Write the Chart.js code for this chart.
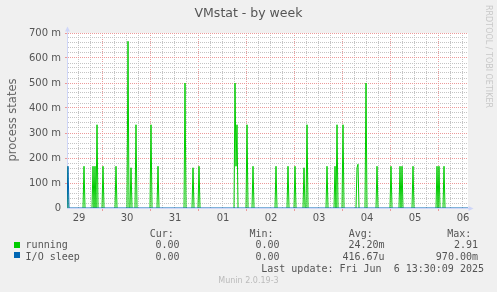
<!DOCTYPE html>
<html>
<head>
<meta charset="utf-8">
<title>VMstat - by week</title>
<script src="https://cdn.jsdelivr.net/npm/chart.js@4.4.1/dist/chart.umd.min.js"></script>
<style>
  html, body { margin: 0; padding: 0; background: #f0f0f0; }
  #wrap { position: relative; width: 497px; height: 292px; overflow: hidden;
          font-family: 'DejaVu Sans', sans-serif; color: #555; }
  #wrap canvas { position: absolute; left: 0; top: 0; }
  .t { position: absolute; line-height: 1; white-space: pre; }
  .mono { font-family: 'DejaVu Sans Mono', monospace; font-size: 10px; }
  .r { text-align: right; }
  .box { position: absolute; width: 6px; height: 6px; }
</style>
</head>
<body>
<div id="wrap">
  <canvas id="chart" width="497" height="292"></canvas>

  <div class="t" style="left:0; width:497px; text-align:center; top:6.7px; font-size:12.5px;">VMstat - by week</div>
  <div class="t" style="left:-38px; top:114px; width:100px; height:12px; line-height:12px; text-align:center; font-size:11.5px; color:#6a6a6a; transform:rotate(-90deg);">process states</div>
  <div class="t" style="left:483.6px; top:4.5px; font-size:8px; color:#c8c8c8; writing-mode:vertical-rl;">RRDTOOL / TOBI OETIKER</div>

  <div class="t mono" style="left:149.8px; top:228.8px;">Cur:</div>
  <div class="t mono" style="left:249.5px; top:228.8px;">Min:</div>
  <div class="t mono" style="left:348.8px; top:228.8px;">Avg:</div>
  <div class="t mono" style="left:447.2px; top:228.8px;">Max:</div>

  <div class="box" style="left:13.8px; top:241.8px; background:#00cc00;"></div>
  <div class="t mono" style="left:25.6px; top:239.8px;">running</div>
  <div class="t mono r" style="right:317.4px; top:239.8px;">0.00</div>
  <div class="t mono r" style="right:217.4px; top:239.8px;">0.00</div>
  <div class="t mono r" style="right:112.4px; top:239.8px;">24.20m</div>
  <div class="t mono r" style="right:19px; top:239.8px;">2.91</div>

  <div class="box" style="left:13.8px; top:252.2px; background:#0066b3;"></div>
  <div class="t mono" style="left:25.6px; top:251.8px;">I/O sleep</div>
  <div class="t mono r" style="right:317.4px; top:251.8px;">0.00</div>
  <div class="t mono r" style="right:217.4px; top:251.8px;">0.00</div>
  <div class="t mono r" style="right:112.4px; top:251.8px;">416.67u</div>
  <div class="t mono r" style="right:19px; top:251.8px;">970.00m</div>

  <div class="t mono r" style="right:13px; top:264.2px;">Last update: Fri Jun  6 13:30:09 2025</div>
  <div class="t" style="left:0; width:497px; text-align:center; top:277.2px; font-size:8px; color:#bbb;">Munin 2.0.19-3</div>
</div>

<script>
// Day labels under the x axis (one per day, around noon)
const dayLabels = ['29', '30', '31', '01', '02', '03', '04', '05', '06'];
const firstLabelHour = 6;      // hours from the left edge of the graph
const firstGridHour = 5.5;     // first minor (6h) grid line
const firstMajorHour = 17.5;   // first day (red) grid line
const spanHours = 200.5;       // 400 px at 30 min per px

// "running" spikes: hour from the left edge, value (process states)
const runHours = [0, 8.5, 13, 14, 15, 18, 24.5, 30.5, 32, 34.5, 42, 45.5, 59, 63, 66,
                  84, 84.5, 85, 90, 93, 104.5, 110.5, 114, 118.5, 120, 130, 134, 135, 138,
                  145, 145.5, 149.5, 155, 162, 166.5, 167.5, 173, 185, 186, 188.5];
const runValues = [0.167, 0.167, 0.167, 0.167, 0.333, 0.167, 0.167, 0.667, 0.161, 0.333, 0.333, 0.167, 0.5, 0.161, 0.167,
                   0.5, 0.167, 0.333, 0.333, 0.167, 0.167, 0.167, 0.167, 0.161, 0.333, 0.167, 0.167, 0.333, 0.333,
                   0.161, 0.175, 0.5, 0.167, 0.167, 0.167, 0.167, 0.167, 0.167, 0.167, 0.167];

// "I/O sleep" spikes
const ioHours = [0.5];
const ioValues = [0.167];

// y axis: minor grid every 20m, labels every 100m
const yMax = 0.7;
const yLabels = ['0', '100 m', '200 m', '300 m', '400 m', '500 m', '600 m', '700 m'];

const AXIS_COLOR = '#cfd6f8';
const GRID_COLOR = '#c4c4c4';
const MGRID_COLOR = '#ec9a9a';
const FONT_COLOR = '#555';

// 30 min samples, zero between the spikes
function buildSeries(hours, values) {
    const pts = [];
    for (let i = 0; i <= spanHours * 2; i++) pts.push({ x: i / 2, y: 0 });
    hours.forEach((h, k) => { pts[Math.round(h * 2)].y = values[k]; });
    return pts;
}

const labelAt = new Map(dayLabels.map((d, i) => [firstLabelHour + 24 * i, d]));
const isMajorX = h => Math.abs(((h - firstMajorHour) % 24 + 24) % 24) < 1e-6;

// white canvas behind the plot
const canvasBg = {
    id: 'canvasBg',
    beforeDraw(chart) {
        const { ctx, chartArea: a } = chart;
        ctx.save();
        ctx.fillStyle = '#fff';
        ctx.fillRect(a.left, a.top, a.right - a.left, a.bottom - a.top);
        ctx.restore();
    }
};

// little arrows at the ends of the axes
const axisArrows = {
    id: 'axisArrows',
    afterDraw(chart) {
        const { ctx, chartArea: a } = chart;
        const x = a.left + 0.5, y = a.bottom + 0.5;
        ctx.save();
        ctx.fillStyle = AXIS_COLOR;
        ctx.strokeStyle = AXIS_COLOR;
        ctx.lineWidth = 1;
        ctx.beginPath();
        ctx.moveTo(x, a.top); ctx.lineTo(x, a.top - 2);
        ctx.moveTo(a.right, y); ctx.lineTo(a.right + 2, y);
        ctx.stroke();
        ctx.beginPath();
        ctx.moveTo(x - 2.5, a.top - 1.5); ctx.lineTo(x + 2.5, a.top - 1.5); ctx.lineTo(x, a.top - 6.5);
        ctx.closePath(); ctx.fill();
        ctx.beginPath();
        ctx.moveTo(a.right + 0.5, y - 2.5); ctx.lineTo(a.right + 0.5, y + 2.5); ctx.lineTo(a.right + 5.5, y);
        ctx.closePath(); ctx.fill();
        ctx.restore();
    }
};

new Chart(document.getElementById('chart'), {
    type: 'line',
    data: {
        datasets: [
            {
                label: 'running',
                data: buildSeries(runHours, runValues),
                borderColor: '#00cc00',
                borderWidth: 1,
                pointRadius: 0,
                tension: 0,
                order: 1,
                segment: {
                    borderColor: c => (c.p0.parsed.y === 0 && c.p1.parsed.y === 0) ? 'rgba(0,0,0,0)' : undefined
                }
            },
            {
                label: 'I/O sleep',
                data: buildSeries(ioHours, ioValues),
                borderColor: '#0066b3',
                borderWidth: 1,
                pointRadius: 0,
                tension: 0,
                order: 0
            }
        ]
    },
    options: {
        responsive: false,
        animation: false,
        events: [],
        layout: { padding: { left: 0, right: 29, top: 33, bottom: 64 } },
        plugins: {
            legend: { display: false },
            title: { display: false },
            tooltip: { enabled: false }
        },
        scales: {
            x: {
                type: 'linear',
                min: 0,
                max: spanHours,
                afterBuildTicks: s => {
                    const t = [];
                    for (let h = firstGridHour; h <= spanHours; h += 6) t.push({ value: h });
                    labelAt.forEach((_, h) => t.push({ value: h }));
                    t.sort((p, q) => p.value - q.value);
                    s.ticks = t;
                },
                afterFit: s => { s.height = 20; },
                grid: {
                    color: c => labelAt.has(c.tick.value) ? 'rgba(0,0,0,0)' : (isMajorX(c.tick.value) ? MGRID_COLOR : GRID_COLOR),
                    tickColor: c => (!labelAt.has(c.tick.value) && isMajorX(c.tick.value)) ? MGRID_COLOR : 'rgba(0,0,0,0)',
                    tickLength: 3,
                    lineWidth: 1
                },
                border: { color: AXIS_COLOR, dash: [1, 1] },
                ticks: {
                    autoSkip: false,
                    maxRotation: 0,
                    padding: 1,
                    color: FONT_COLOR,
                    font: { family: 'DejaVu Sans', size: 10 },
                    callback: v => labelAt.get(v) || ''
                }
            },
            y: {
                min: 0,
                max: yMax,
                afterBuildTicks: s => {
                    const t = [];
                    for (let i = 0; i <= 35; i++) t.push({ value: i / 50 });
                    s.ticks = t;
                },
                afterFit: s => { s.width = 67; },
                grid: {
                    color: c => c.index === 0 ? 'rgba(0,0,0,0)' : (c.index % 5 === 0 ? MGRID_COLOR : GRID_COLOR),
                    tickColor: c => (c.index % 5 === 0 && c.index > 0) ? MGRID_COLOR : 'rgba(0,0,0,0)',
                    tickLength: 2,
                    lineWidth: 1
                },
                border: { color: AXIS_COLOR, dash: [1, 1] },
                ticks: {
                    autoSkip: false,
                    padding: 4,
                    color: FONT_COLOR,
                    font: { family: 'DejaVu Sans', size: 10 },
                    callback: (v, i) => i % 5 === 0 ? yLabels[i / 5] : ''
                }
            }
        }
    },
    plugins: [canvasBg, axisArrows]
});
</script>
</body>
</html>
